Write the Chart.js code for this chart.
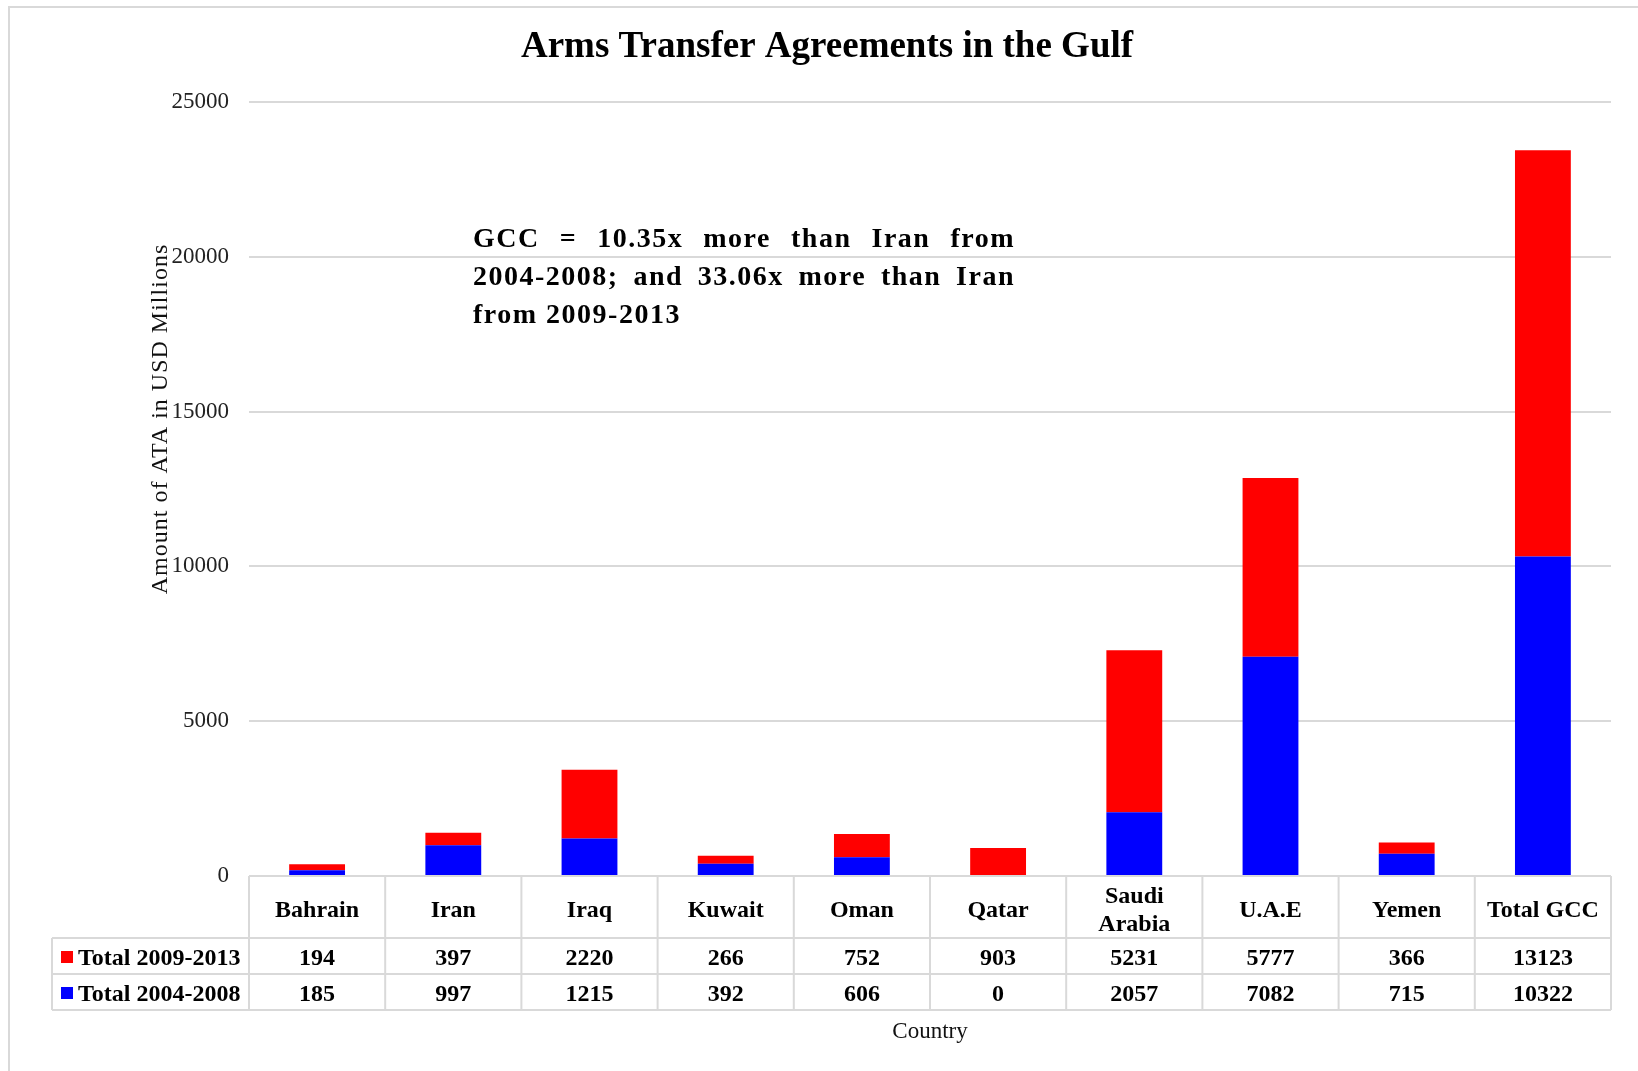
<!DOCTYPE html>
<html>
<head>
<meta charset="utf-8">
<title>Arms Transfer Agreements in the Gulf</title>
<script src="https://cdn.jsdelivr.net/npm/chart.js@4.4.1/dist/chart.umd.min.js"></script>
<style>
  html, body { margin: 0; padding: 0; background: #fff; }
  #wrap { width: 1638px; height: 1071px; position: relative; }
</style>
</head>
<body>
<div id="wrap"><canvas id="ata-chart"></canvas></div>
<script>
// Data
const countries = ['Bahrain', 'Iran', 'Iraq', 'Kuwait', 'Oman', 'Qatar', ['Saudi', 'Arabia'], 'U.A.E', 'Yemen', 'Total GCC'];
const total2009to2013 = [194, 397, 2220, 266, 752, 903, 5231, 5777, 366, 13123];
const total2004to2008 = [185, 997, 1215, 392, 606, 0, 2057, 7082, 715, 10322];
const yTicks = [0, 5000, 10000, 15000, 20000, 25000];

const noteLines = [
  'GCC = 10.35x more than Iran from',
  '2004-2008; and 33.06x more than Iran',
  'from 2009-2013',
];

const SERIF = "'Liberation Serif', 'Times New Roman', serif";
const GRID = '#d9d9d9';
const RED = '#ff0000';
const BLUE = '#0000ff';

// rows of the data table, top to bottom
const tableRows = [
  { label: 'Total 2009-2013', color: RED, values: total2009to2013 },
  { label: 'Total 2004-2008', color: BLUE, values: total2004to2008 },
];

function drawJustified(ctx, text, left, right, y) {
  const words = text.split(' ');
  const widths = words.map(w => ctx.measureText(w).width);
  const total = widths.reduce((a, b) => a + b, 0);
  const gap = (right - left - total) / (words.length - 1);
  let cx = left;
  words.forEach((w, i) => {
    ctx.fillText(w, cx, y);
    cx += widths[i] + gap;
  });
}

// title, note, axis titles and the data table under the plot
const extras = {
  id: 'extras',
  afterDraw(chart) {
    const ctx = chart.ctx;
    const xs = chart.scales.x;
    const area = chart.chartArea;
    const n = countries.length;
    const catW = (xs.right - xs.left) / n;

    ctx.save();

    // outer frame
    ctx.strokeStyle = GRID;
    ctx.lineWidth = 2;
    ctx.strokeRect(9, 7, 1700, 1200);

    // title
    ctx.fillStyle = '#000';
    ctx.font = 'bold 37px ' + SERIF;
    ctx.textAlign = 'center';
    ctx.textBaseline = 'middle';
    ctx.fillText('Arms Transfer Agreements in the Gulf', 827, 47);

    // note in the plot
    ctx.font = 'bold 28px ' + SERIF;
    ctx.letterSpacing = '1.5px';
    ctx.textAlign = 'left';
    ctx.textBaseline = 'alphabetic';
    drawJustified(ctx, noteLines[0], 473, 1015, 247);
    drawJustified(ctx, noteLines[1], 473, 1015, 285);
    ctx.fillText(noteLines[2], 473, 323);
    ctx.letterSpacing = '0px';

    // y axis title
    ctx.save();
    ctx.translate(161, 419);
    ctx.rotate(-Math.PI / 2);
    ctx.font = '24px ' + SERIF;
    ctx.letterSpacing = '1px';
    ctx.textAlign = 'center';
    ctx.textBaseline = 'middle';
    ctx.fillStyle = '#111';
    ctx.fillText('Amount of ATA in USD Millions', 0, 0);
    ctx.restore();

    // data table
    const top = area.bottom;
    const headBottom = top + 62;
    const rowH = 36;
    const tableBottom = headBottom + rowH * tableRows.length;
    const legendLeft = 52;

    ctx.strokeStyle = GRID;
    ctx.lineWidth = 2;
    ctx.beginPath();
    ctx.moveTo(area.left, top); ctx.lineTo(area.right, top);
    for (let r = 0; r <= tableRows.length; r++) {
      const y = headBottom + r * rowH;
      ctx.moveTo(legendLeft, y); ctx.lineTo(area.right, y);
    }
    ctx.moveTo(legendLeft, headBottom); ctx.lineTo(legendLeft, tableBottom);
    for (let i = 0; i <= n; i++) {
      const x = xs.left + i * catW;
      ctx.moveTo(x, top); ctx.lineTo(x, tableBottom);
    }
    ctx.stroke();

    ctx.fillStyle = '#000';
    ctx.font = 'bold 24px ' + SERIF;
    ctx.textAlign = 'center';
    ctx.textBaseline = 'middle';
    countries.forEach((c, i) => {
      const cx = xs.getPixelForValue(i);
      const lines = Array.isArray(c) ? c : [c];
      const mid = (top + headBottom) / 2 + 4;
      lines.forEach((l, k) => {
        ctx.fillText(l, cx, mid + (k - (lines.length - 1) / 2) * 28);
      });
    });

    tableRows.forEach((row, r) => {
      const cy = headBottom + r * rowH + rowH / 2 + 3;
      ctx.fillStyle = row.color;
      ctx.fillRect(61, cy - 8, 12, 12);
      ctx.fillStyle = '#000';
      ctx.textAlign = 'left';
      ctx.fillText(row.label, 78, cy);
      ctx.textAlign = 'center';
      row.values.forEach((v, i) => {
        ctx.fillText(String(v), xs.getPixelForValue(i), cy);
      });
    });

    // x axis title
    ctx.font = '23px ' + SERIF;
    ctx.fillStyle = '#111';
    ctx.fillText('Country', (area.left + area.right) / 2, 1032);

    ctx.restore();
  }
};

new Chart(document.getElementById('ata-chart'), {
  type: 'bar',
  data: {
    labels: countries,
    datasets: [
      {
        label: 'Total 2004-2008',
        data: total2004to2008,
        backgroundColor: BLUE,
        barPercentage: 0.41,
        categoryPercentage: 1,
      },
      {
        label: 'Total 2009-2013',
        data: total2009to2013,
        backgroundColor: RED,
        barPercentage: 0.41,
        categoryPercentage: 1,
      },
    ],
  },
  options: {
    responsive: true,
    maintainAspectRatio: false,
    animation: false,
    layout: { padding: { left: 0, right: 27, top: 102, bottom: 195 } },
    plugins: {
      legend: { display: false },
      title: { display: false },
      tooltip: { enabled: false },
    },
    scales: {
      x: {
        stacked: true,
        grid: { display: false },
        border: { display: false },
        ticks: { display: false },
        afterFit: s => { s.height = 0; },
      },
      y: {
        stacked: true,
        min: 0,
        max: 25000,
        afterBuildTicks: s => { s.ticks = yTicks.map(v => ({ value: v })); },
        afterFit: s => { s.width = 249; },
        grid: { color: GRID, lineWidth: 2, drawTicks: false },
        border: { display: false },
        ticks: {
          padding: 20,
          color: '#222',
          font: { family: SERIF, size: 23 },
          callback: v => String(v),
        },
      },
    },
  },
  plugins: [extras],
});
</script>
</body>
</html>
